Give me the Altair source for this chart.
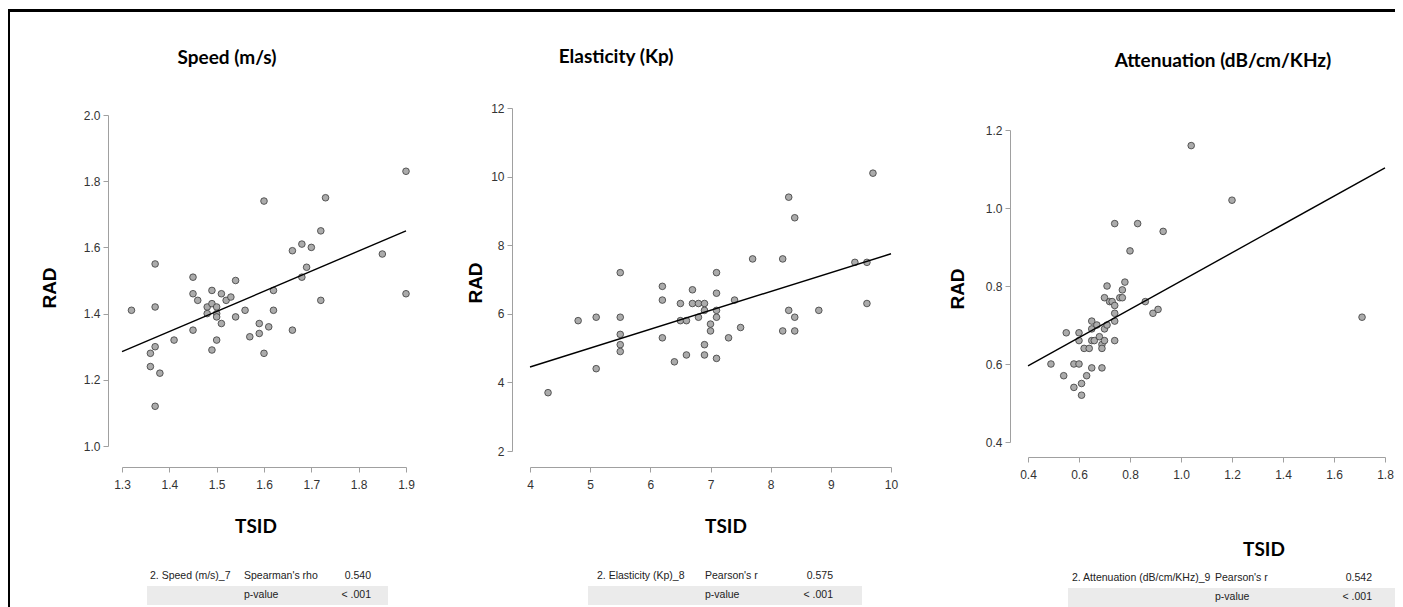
import altair as alt
import pandas as pd

# ---------------- data ----------------
speed_x = [1.32, 1.36, 1.36, 1.37, 1.37, 1.37, 1.37, 1.38, 1.41, 1.45, 1.45, 1.45, 1.46, 1.48, 1.48,
           1.49, 1.49, 1.49, 1.50, 1.50, 1.50, 1.50, 1.51, 1.51, 1.52, 1.53, 1.54, 1.54, 1.56, 1.57,
           1.59, 1.59, 1.60, 1.60, 1.61, 1.62, 1.62, 1.66, 1.66, 1.68, 1.68, 1.69, 1.70, 1.72, 1.72,
           1.73, 1.85, 1.90, 1.90]
speed_y = [1.41, 1.28, 1.24, 1.55, 1.42, 1.30, 1.12, 1.22, 1.32, 1.51, 1.46, 1.35, 1.44, 1.42, 1.40,
           1.47, 1.43, 1.29, 1.42, 1.40, 1.39, 1.32, 1.46, 1.37, 1.44, 1.45, 1.50, 1.39, 1.41, 1.33,
           1.37, 1.34, 1.74, 1.28, 1.36, 1.47, 1.41, 1.59, 1.35, 1.61, 1.51, 1.54, 1.60, 1.65, 1.44,
           1.75, 1.58, 1.83, 1.46]
speed_fit_x = [1.3, 1.9]
speed_fit_y = [1.285, 1.65]

elast_x = [4.3, 4.8, 5.1, 5.1, 5.5, 5.5, 5.5, 5.5, 5.5, 6.2, 6.2, 6.2, 6.4, 6.5, 6.5, 6.6, 6.6, 6.7,
           6.7, 6.8, 6.8, 6.9, 6.9, 6.9, 6.9, 7.0, 7.0, 7.1, 7.1, 7.1, 7.1, 7.1, 7.3, 7.4, 7.5, 7.7,
           8.2, 8.2, 8.3, 8.3, 8.4, 8.4, 8.4, 8.8, 9.4, 9.6, 9.6, 9.7]
elast_y = [3.7, 5.8, 5.9, 4.4, 7.2, 5.9, 5.4, 5.1, 4.9, 6.8, 6.4, 5.3, 4.6, 6.3, 5.8, 5.8, 4.8, 6.7,
           6.3, 6.3, 5.9, 6.3, 6.1, 5.1, 4.8, 5.7, 5.5, 7.2, 6.6, 6.1, 5.9, 4.7, 5.3, 6.4, 5.6, 7.6,
           7.6, 5.5, 9.4, 6.1, 8.8, 5.9, 5.5, 6.1, 7.5, 7.5, 6.3, 10.1]
elast_fit_x = [4, 10]
elast_fit_y = [4.45, 7.75]

atten_x = [0.49, 0.54, 0.55, 0.58, 0.58, 0.60, 0.60, 0.60, 0.61, 0.61, 0.62, 0.63, 0.64, 0.65, 0.65,
           0.65, 0.65, 0.66, 0.67, 0.68, 0.69, 0.69, 0.69, 0.70, 0.70, 0.70, 0.71, 0.71, 0.72, 0.73,
           0.74, 0.74, 0.74, 0.74, 0.74, 0.76, 0.77, 0.77, 0.78, 0.80, 0.83, 0.86, 0.89, 0.91, 0.93,
           1.04, 1.20, 1.71]
atten_y = [0.60, 0.57, 0.68, 0.60, 0.54, 0.68, 0.66, 0.60, 0.55, 0.52, 0.64, 0.57, 0.64, 0.71, 0.69,
           0.66, 0.59, 0.66, 0.70, 0.67, 0.65, 0.64, 0.59, 0.77, 0.69, 0.66, 0.80, 0.70, 0.76, 0.76,
           0.96, 0.75, 0.73, 0.71, 0.66, 0.77, 0.77, 0.79, 0.81, 0.89, 0.96, 0.76, 0.73, 0.74, 0.94,
           1.16, 1.02, 0.72]
atten_fit_x = [0.4, 1.8]
atten_fit_y = [0.595, 1.103]

speed_xticks = [1.3, 1.4, 1.5, 1.6, 1.7, 1.8, 1.9]
speed_yticks = [1.0, 1.2, 1.4, 1.6, 1.8, 2.0]
elast_xticks = [4, 5, 6, 7, 8, 9, 10]
elast_yticks = [2, 4, 6, 8, 10, 12]
atten_xticks = [0.4, 0.6, 0.8, 1.0, 1.2, 1.4, 1.6, 1.8]
atten_yticks = [0.4, 0.6, 0.8, 1.0, 1.2]

panel_titles = ["Speed (m/s)", "Elasticity (Kp)", "Attenuation (dB/cm/KHz)"]
x_title = "TSID"
y_title = "RAD"
table_names = ["2. Speed (m/s)_7", "2. Elasticity (Kp)_8", "2. Attenuation (dB/cm/KHz)_9"]
table_stats = ["Spearman's rho", "Pearson's r", "Pearson's r"]
table_values = ["0.540", "0.575", "0.542"]
p_label = "p-value"
p_values = ["< .001", "< .001", "< .001"]

# ---------------- styling / layout ----------------
W, H = 1387, 599
TICKFONT = "Liberation Sans, Arial, sans-serif"
TITLEFONT = "Lato, Liberation Sans, sans-serif"
ARIAL = "Liberation Sans, Arial, sans-serif"
AX_GRAY = "#a0a0a0"


def P(v):
    """page pixel -> chart pixel (page margin 8px)"""
    return v - 8


def make_axis(orient, values, fmt, offset):
    return alt.Axis(orient=orient, offset=offset, values=values, format=fmt, title=None,
                    grid=False, domainColor=AX_GRAY, tickColor=AX_GRAY, tickSize=5,
                    domainWidth=1, tickWidth=1, labelFont=TICKFONT, labelFontSize=12,
                    labelColor="#333333", labelPadding=7 if orient == "bottom" else 3,
                    labelFlush=False, labelOverlap=False)


def panel(key, xs, ys, fx, fy, xdom, ydom, xrng, yrng, xticks, yticks, fmt, xoff, yoff):
    xf, yf = f"{key}_x", f"{key}_y"
    xenc = alt.X(f"{xf}:Q",
                 scale=alt.Scale(domain=xdom, range=xrng, nice=False, zero=False),
                 axis=make_axis("bottom", xticks, fmt, xoff))
    yenc = alt.Y(f"{yf}:Q",
                 scale=alt.Scale(domain=ydom, range=yrng, nice=False, zero=False),
                 axis=make_axis("left", yticks, fmt, yoff))
    pts = alt.Chart(pd.DataFrame({xf: xs, yf: ys})).mark_circle(
        size=44, fill="#ababab", stroke="#3a3a3a", strokeWidth=0.8, opacity=1
    ).encode(x=xenc, y=yenc)
    fit = alt.Chart(pd.DataFrame({xf: fx, yf: fy})).mark_line(
        color="black", strokeWidth=1.4
    ).encode(x=xenc, y=yenc)
    return alt.layer(pts, fit)


def label(text, x, y, size, bold=False, font=TICKFONT, align="center", angle=0, color="#000000"):
    return alt.Chart(pd.DataFrame({"t": [text]})).mark_text(
        font=font, fontSize=size, fontWeight="bold" if bold else "normal",
        align=align, baseline="middle", angle=angle, color=color
    ).encode(text="t:N", x=alt.value(P(x)), y=alt.value(P(y)))


def band(x1, x2, y1, y2):
    return alt.Chart(pd.DataFrame({"d": [0]})).mark_rect(color="#ebebeb").encode(
        x=alt.value(P(x1)), x2=alt.value(P(x2)), y=alt.value(P(y1)), y2=alt.value(P(y2)))


layers = []

# border lines (top and left)
layers.append(alt.Chart(pd.DataFrame({"d": [0]})).mark_rule(color="black", strokeWidth=3).encode(
    x=alt.value(0), x2=alt.value(W), y=alt.value(P(10.5)), y2=alt.value(P(10.5))))
layers.append(alt.Chart(pd.DataFrame({"d": [0]})).mark_rule(color="black", strokeWidth=3).encode(
    x=alt.value(0.5), y=alt.value(P(9)), y2=alt.value(H)))

# table bands
layers.append(band(147, 388, 586, 605))
layers.append(band(588, 862, 586, 605))
layers.append(band(1068, 1403, 588, 607))

# panels
layers.append(panel("s", speed_x, speed_y, speed_fit_x, speed_fit_y, [1.3, 1.9], [1.0, 2.0],
                    [P(122), P(406)], [P(446), P(115)], speed_xticks, speed_yticks, ".1f",
                    P(467) - H, -P(108)))
layers.append(panel("e", elast_x, elast_y, elast_fit_x, elast_fit_y, [4, 10], [2, 12],
                    [P(530), P(891)], [P(451), P(108)], elast_xticks, elast_yticks, "d",
                    P(467) - H, -P(512)))
layers.append(panel("a", atten_x, atten_y, atten_fit_x, atten_fit_y, [0.4, 1.8], [0.4, 1.2],
                    [P(1028), P(1385)], [P(442), P(130)], atten_xticks, atten_yticks, ".1f",
                    P(457) - H, -P(1010)))

# panel titles
layers.append(label(panel_titles[0], 227, 58, 19, bold=True, font=TITLEFONT))
layers.append(label(panel_titles[1], 616, 57, 19, bold=True, font=TITLEFONT))
layers.append(label(panel_titles[2], 1223, 61, 19, bold=True, font=TITLEFONT))

# axis titles
for (rx, ry) in [(50, 288), (476, 283), (958, 289)]:
    layers.append(label(y_title, rx, ry, 19, bold=True, font=ARIAL, angle=270))
for (tx, ty) in [(256, 527), (726, 527), (1264, 550)]:
    layers.append(label(x_title, tx, ty, 19, bold=True, font=TITLEFONT))

# tables
table_pos = [  # name_x, stat_x, value_right_x, row1_y, row2_y
    (150, 244, 371, 576, 595),
    (597, 705, 833, 576, 595),
    (1072, 1215, 1372, 578, 597),
]
for i, (nx, sx, vx, r1, r2) in enumerate(table_pos):
    layers.append(label(table_names[i], nx, r1, 10.5, align="left", color="#222222"))
    layers.append(label(table_stats[i], sx, r1, 10.5, align="left", color="#222222"))
    layers.append(label(table_values[i], vx, r1, 10.5, align="right", color="#222222"))
    layers.append(label(p_label, sx, r2, 10.5, align="left", color="#222222"))
    layers.append(label(p_values[i], vx, r2, 10.5, align="right", color="#222222"))

chart = alt.layer(*layers).resolve_scale(x="independent", y="independent").properties(
    width=W, height=H, padding=0, autosize=alt.AutoSizeParams(type="none")
).configure_view(stroke=None)

chart.save("out.html", embed_options={"renderer": "svg", "actions": False})
